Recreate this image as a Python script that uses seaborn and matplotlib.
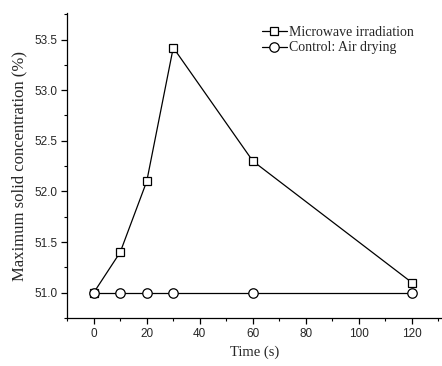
import matplotlib
matplotlib.use("Agg")
import matplotlib.pyplot as plt
import seaborn as sns
import pandas as pd
from matplotlib.ticker import MultipleLocator

time_s = [0, 10, 20, 30, 60, 120]
microwave = [51.0, 51.4, 52.1, 53.42, 52.3, 51.1]
control = [51.0, 51.0, 51.0, 51.0, 51.0, 51.0]
labels = ["Microwave irradiation", "Control: Air drying"]

sns.set_theme(style="ticks")
plt.rcParams['font.family'] = ['Liberation Sans', 'DejaVu Sans']

fig = plt.figure(figsize=(4.42, 3.66), dpi=100)
ax = fig.add_axes([0.152, 0.131, 0.846, 0.833])

df1 = pd.DataFrame({"t": time_s, "v": microwave})
df2 = pd.DataFrame({"t": time_s, "v": control})
sns.lineplot(data=df1, x="t", y="v", ax=ax, color="black", lw=0.9, marker="s",
             markersize=6.2, markerfacecolor="white", markeredgecolor="black",
             markeredgewidth=0.9, label=labels[0])
sns.lineplot(data=df2, x="t", y="v", ax=ax, color="black", lw=0.9, marker="o",
             markersize=6.8, markerfacecolor="white", markeredgecolor="black",
             markeredgewidth=0.9, label=labels[1])

ax.set_xlim(-10, 131)
ax.set_ylim(50.75, 53.76)
ax.xaxis.set_major_locator(MultipleLocator(20))
ax.xaxis.set_minor_locator(MultipleLocator(10))
ax.yaxis.set_major_locator(MultipleLocator(0.5))
ax.yaxis.set_minor_locator(MultipleLocator(0.25))
ax.yaxis.set_major_formatter(matplotlib.ticker.FormatStrFormatter('%.1f'))
for s in ["top", "right"]:
    ax.spines[s].set_visible(False)
for s in ["left", "bottom"]:
    ax.spines[s].set_linewidth(0.9)
    ax.spines[s].set_color("black")
ax.tick_params(which="major", length=4, width=0.9, labelsize=8.5, color="black", pad=3)
ax.tick_params(which="minor", length=2.5, width=0.8, color="black")

ax.set_xlabel("Time (s)", fontfamily="Liberation Serif", fontsize=10.5, labelpad=4)
ax.set_ylabel("Maximum solid concentration (%)", fontfamily="Liberation Serif", fontsize=12, labelpad=5)

leg = ax.legend(loc="upper right", bbox_to_anchor=(0.96, 1.0), frameon=False,
                handlelength=1.8, handletextpad=0.15, labelspacing=0.2,
                prop={"family": "Liberation Serif", "size": 10})

fig.savefig("out.png", dpi=100)
